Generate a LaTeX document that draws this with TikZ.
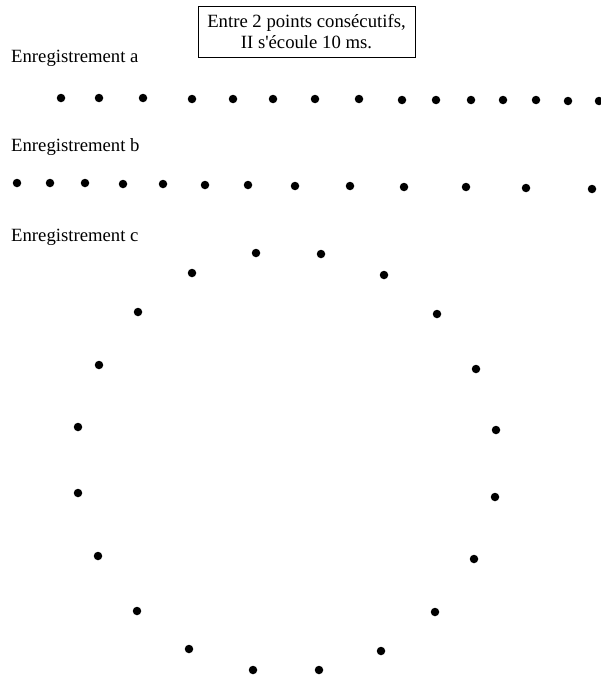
\documentclass[tikz,border=0pt]{standalone}
\usepackage{fontspec}
\setmainfont{Liberation Serif}[Ligatures=TeXOff]

\tikzset{
  spot/.style={circle, fill=black, inner sep=0pt, minimum size=8.5pt},
  title/.style={anchor=base west, inner sep=0pt, font=\fontsize{18.7}{21}\selectfont},
  note/.style={draw, line width=0.8pt, align=center, minimum width=217pt, minimum height=51pt,
    inner sep=0pt, font=\fontsize{18.7}{21}\selectfont}
}

\begin{document}
\begin{tikzpicture}[x=1pt, y=-1pt]
  \useasboundingbox (0,0) rectangle (600,677);

  \node[note] (info) at (306.5,31.5) {Entre 2 points consécutifs,\\II s'écoule 10 ms.};

  \node[title] (la) at (11,63) {Enregistrement a};
  \node[title] (lb) at (11,151) {Enregistrement b};
  \node[title] (lc) at (11,241) {Enregistrement c};

  % enregistrement a
  \foreach \x/\y [count=\i] in {61/98, 99/98, 143/98, 192/99, 233/99, 273/99, 315/99,
      359/99, 402/100, 436/100, 471/100, 503/100, 536/100, 568/101, 599/101}
    \node[spot] (a\i) at (\x,\y) {};

  % enregistrement b
  \foreach \x/\y [count=\i] in {17/183, 50/183, 85/183, 123/184, 163/184, 205/185, 248/185,
      295/186, 350/186, 404/187, 466/187, 526/188, 592/189}
    \node[spot] (b\i) at (\x,\y) {};

  % enregistrement c
  \foreach \x/\y [count=\i] in {256/253, 321/254, 384/275, 437/314, 476/369, 496/430,
      495/497, 474/559, 435/612, 381/651, 319/670, 253/670, 189/649, 137/611,
      98/556, 78/493, 78/427, 99/365, 138/312, 192/273}
    \node[spot] (c\i) at (\x,\y) {};
\end{tikzpicture}
\end{document}
